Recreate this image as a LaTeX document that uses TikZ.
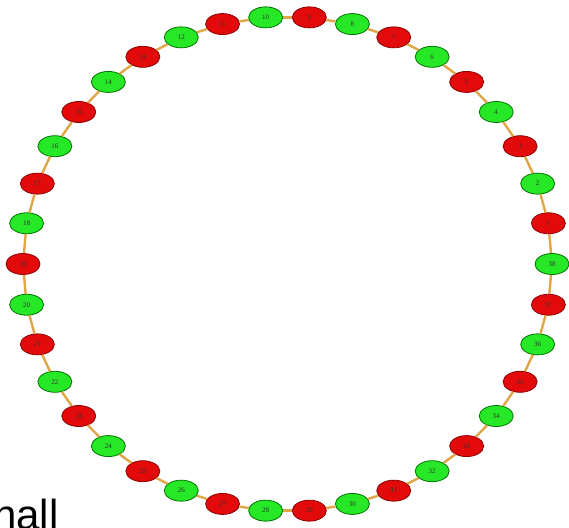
\documentclass[tikz,border=0pt]{standalone}
\usepackage{fontspec}
\setmainfont{Liberation Serif}
\newfontfamily\hallfont{Liberation Sans}
\usetikzlibrary{shapes.geometric}
\definecolor{stopgreen}{RGB}{38,232,38}
\definecolor{stopred}{RGB}{226,10,10}
\definecolor{linkgold}{RGB}{222,166,70}

\begin{document}
\begin{tikzpicture}[
  x=1pt, y=-1pt,
  stop/.style={ellipse, draw, line width=0.8pt, minimum width=34pt, minimum height=21pt, inner sep=0pt, font=\fontsize{7}{7}\selectfont, text=black!80},
  greenstop/.style={stop, fill=stopgreen, draw=green!45!black},
  redstop/.style={stop, fill=stopred, draw=red!55!black},
  link/.style={draw=linkgold, line width=2.4pt},
]
  \useasboundingbox (0,0) rectangle (569,527);

  % Ring of stations, 1 at the right going round to 38
  \foreach \k in {1,...,38} {
    \pgfmathsetmacro{\ang}{94.737+(\k-10)*360/38}
    \ifodd\k
      \node[redstop] (n\k) at ({287.5+264.5*cos(\ang)},{264-247.5*sin(\ang)}) {\k};
    \else
      \node[greenstop] (n\k) at ({287.5+264.5*cos(\ang)},{264-247.5*sin(\ang)}) {\k};
    \fi
  }

  % Links between neighbours
  \foreach \k [remember=\k as \prev (initially 38)] in {1,...,38}
    \draw[link] (n\prev) -- (n\k);

  % Caption cut by the border
  \begin{scope}
    \clip (0,0) rectangle (569,527);
    \node[font=\hallfont\fontsize{42}{42}\selectfont, anchor=base west, inner sep=0pt] (hall) at (-7,529) {hall};
  \end{scope}
\end{tikzpicture}
\end{document}
